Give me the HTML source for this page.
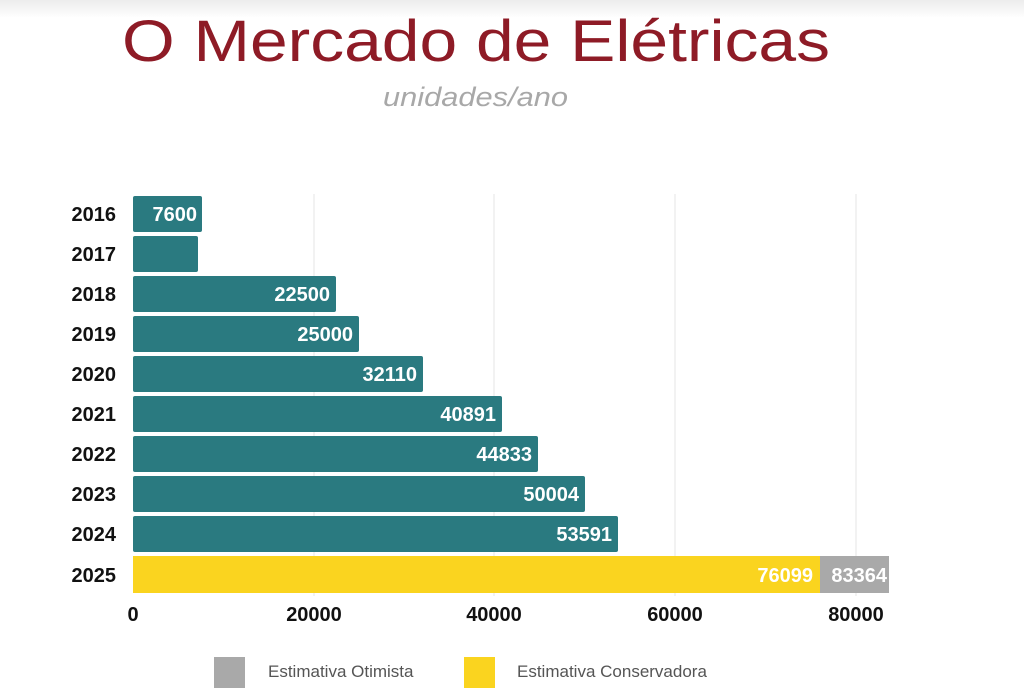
<!DOCTYPE html>
<html><head><meta charset="utf-8"><style>
html,body{margin:0;padding:0;background:#fff;}
svg{display:block;font-family:"Liberation Sans",sans-serif;}
</style></head><body>
<svg width="1024" height="694" viewBox="0 0 1024 694">
<defs><linearGradient id="g" x1="0" y1="0" x2="0" y2="1"><stop offset="0" stop-color="#ececec"/><stop offset="1" stop-color="#fff"/></linearGradient></defs>
<rect x="0" y="0" width="1024" height="18" fill="url(#g)"/>
<text x="122" y="61" font-size="58" fill="#8e1b26" textLength="708" lengthAdjust="spacingAndGlyphs">O Mercado de Elétricas</text>
<text x="383" y="106" font-size="27" font-style="italic" fill="#a8a8a8" textLength="185" lengthAdjust="spacingAndGlyphs">unidades/ano</text>
<g stroke="#e6e6e6" stroke-width="1">
<line x1="314" y1="194" x2="314" y2="596"/><line x1="494" y1="194" x2="494" y2="596"/><line x1="675" y1="194" x2="675" y2="596"/><line x1="856" y1="194" x2="856" y2="596"/>
</g>
<g fill="#2a7a80">
<rect x="133" y="196" width="69" height="36" rx="2"/>
<rect x="133" y="236" width="65" height="36" rx="2"/>
<rect x="133" y="276" width="203" height="36" rx="2"/>
<rect x="133" y="316" width="226" height="36" rx="2"/>
<rect x="133" y="356" width="290" height="36" rx="2"/>
<rect x="133" y="396" width="369" height="36" rx="2"/>
<rect x="133" y="436" width="405" height="36" rx="2"/>
<rect x="133" y="476" width="452" height="36" rx="2"/>
<rect x="133" y="516" width="485" height="36" rx="2"/>
</g>
<rect x="133" y="556" width="687" height="37" fill="#fad41f"/>
<rect x="820" y="556" width="69" height="37" fill="#a9a9a9"/>
<g fill="#fff" font-size="20" font-weight="bold" text-anchor="end">
<text x="197" y="221">7600</text>
<text x="330" y="301">22500</text>
<text x="353" y="341">25000</text>
<text x="417" y="381">32110</text>
<text x="496" y="421">40891</text>
<text x="532" y="461">44833</text>
<text x="579" y="501">50004</text>
<text x="612" y="541">53591</text>
<text x="813" y="582">76099</text>
<text x="887" y="582">83364</text>
</g>
<g fill="#111" font-size="20" font-weight="bold" text-anchor="end">
<text x="116" y="221">2016</text><text x="116" y="261">2017</text><text x="116" y="301">2018</text><text x="116" y="341">2019</text><text x="116" y="381">2020</text><text x="116" y="421">2021</text><text x="116" y="461">2022</text><text x="116" y="501">2023</text><text x="116" y="541">2024</text><text x="116" y="582">2025</text>
</g>
<g fill="#111" font-size="20" font-weight="bold" text-anchor="middle">
<text x="133" y="621">0</text><text x="314" y="621">20000</text><text x="494" y="621">40000</text><text x="675" y="621">60000</text><text x="856" y="621">80000</text>
</g>
<rect x="214" y="657" width="31" height="31" fill="#a9a9a9"/>
<text x="268" y="677" font-size="17" fill="#555">Estimativa Otimista</text>
<rect x="464" y="657" width="31" height="31" fill="#fad41f"/>
<text x="517" y="677" font-size="17" fill="#555">Estimativa Conservadora</text>
</svg>
</body></html>
